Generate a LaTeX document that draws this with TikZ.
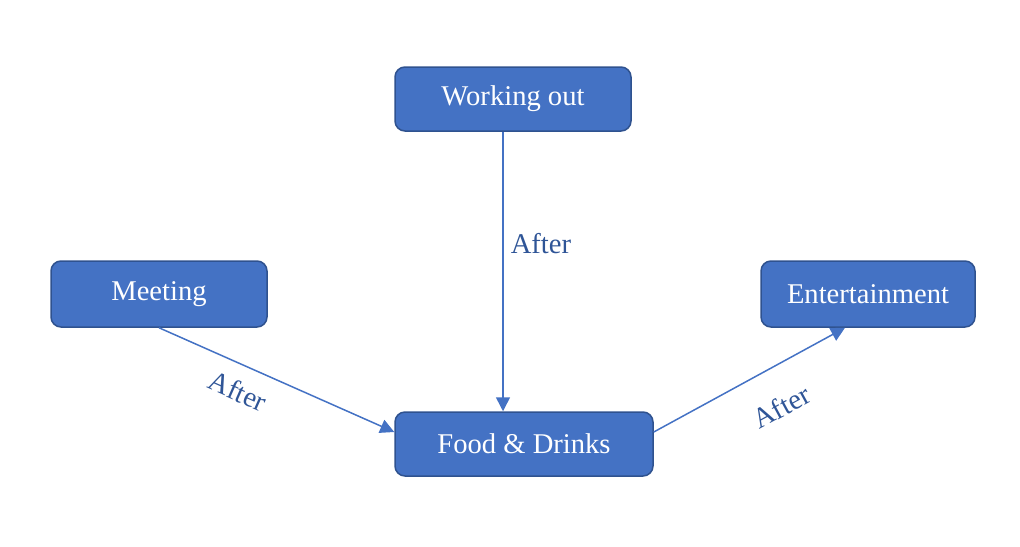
\documentclass[tikz,border=0pt]{standalone}
\usepackage{fontspec}
\setmainfont{Liberation Serif}
\usetikzlibrary{arrows.meta}
\definecolor{boxfill}{HTML}{4472C4}
\definecolor{boxline}{HTML}{2F528F}
\definecolor{labtext}{HTML}{2F5597}

\begin{document}
\begin{tikzpicture}[x=0.5pt,y=-0.5pt,>={Triangle[length=7pt,width=7pt]},
        font=\fontsize{14.3}{17}\selectfont,
        task/.style={draw=boxline,fill=boxfill,line width=0.75pt,rounded corners=5pt,text=white,minimum height=32pt},
        link/.style={->,draw=boxfill,line width=0.75pt},
        lab/.style={text=labtext,inner sep=0pt}]
                \useasboundingbox (0,0) rectangle (1020,546);
                \node[task,minimum width=118pt] (work) at (513,99) {Working out};
                \node[task,minimum width=108pt,minimum height=33pt] (meet) at (159,294) {Meeting};
                \node[task,minimum width=107pt,minimum height=33pt] (ent) at (868,294) {Entertainment};
                \node[task,minimum width=129pt] (food) at (524,444) {Food \& Drinks};
                \draw[link] ([xshift=-5pt]work.south) -- ([xshift=-5pt]work.south |- food.north)node[lab,pos=0.4,right=3.5pt]{After};
                \draw[link] (meet.south) -- ([yshift=6pt]food.west)node[lab,pos=0.38,sloped,below=7.5pt]{After};
                \draw[link] ([yshift=6pt]food.east) -- ([xshift=-11.5pt]ent.south)node[lab,pos=0.57,sloped,below=14pt]{After};
            \end{tikzpicture}
\end{document}
